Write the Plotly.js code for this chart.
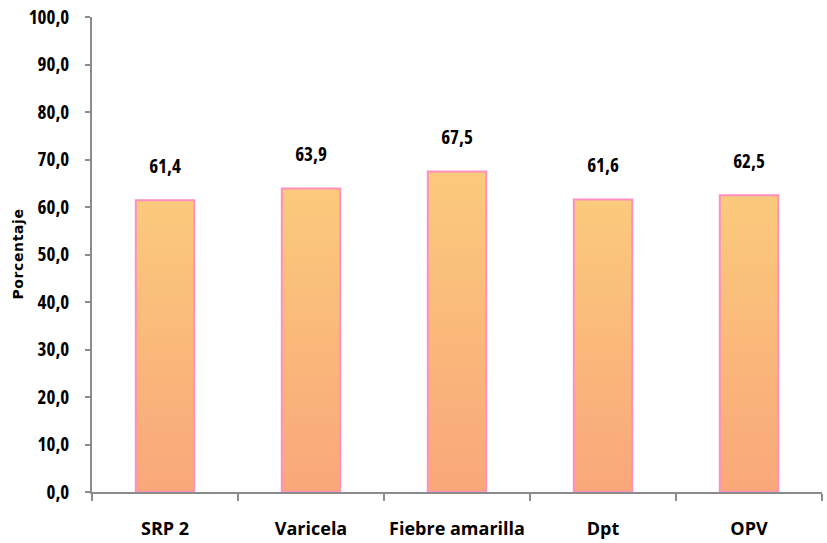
<!DOCTYPE html>
<html><head><meta charset="utf-8">
<script src="https://cdn.plot.ly/plotly-3.0.1.min.js"></script>
<style>body{margin:0;background:#fff}#c{width:827px;height:543px}</style>
</head><body><div id="c"></div>
<script>
const categories = ["SRP 2", "Varicela", "Fiebre amarilla", "Dpt", "OPV"];
const values = [61.4, 63.9, 67.5, 61.6, 62.5];
const yTicks = [0,10,20,30,40,50,60,70,80,90,100];

const font = "'Open Sans', sans-serif";

const trace = {
  type: "bar", x: categories, y: values, width: 0.4,
  marker: {color: "#FAB87B", line: {color: "#FF90C0", width: 2}},
  hoverinfo: "none"
};
const annotations = categories.map((c, i) => ({
  x: c, y: values[i], text: values[i].toFixed(1).replace(".", ","),
  showarrow: false, yanchor: "middle", yshift: 34,
  font: {family: font, size: 19, color: "#000", weight: "bold", stretch: "condensed"}
}));
annotations.push({
  xref: "paper", yref: "paper", x: (17 - 92) / 730, y: 0.5,
  xanchor: "center", yanchor: "middle", textangle: -90, showarrow: false,
  text: "Porcentaje",
  font: {family: "'DejaVu Sans', sans-serif", size: 14, color: "#000", weight: "bold"}
});
const layout = {
  width: 827, height: 543,
  margin: {l: 92, r: 5, t: 17, b: 51},
  paper_bgcolor: "#fff", plot_bgcolor: "#fff",
  separators: ",.",
  showlegend: false,
  xaxis: {
    showline: true, linecolor: "#8c8c8c", linewidth: 2,
    ticks: "outside", tickson: "boundaries", ticklen: 7, tickcolor: "#8c8c8c", tickwidth: 2,
    ticklabelstandoff: 19, tickangle: 0,
    tickfont: {family: font, size: 18, color: "#000", weight: "bold"},
    showgrid: false, zeroline: false
  },
  yaxis: {
    range: [0, 100], tickvals: yTicks, tickformat: ".1f",
    showline: true, linecolor: "#8c8c8c", linewidth: 2,
    ticks: "outside", ticklen: 5, tickcolor: "#8c8c8c", tickwidth: 2,
    ticklabelstandoff: 12,
    tickfont: {family: font, size: 19, color: "#000", weight: "bold", stretch: "condensed"},
    showgrid: false, zeroline: false
  },
  annotations: annotations
};
Plotly.newPlot("c", [trace], layout, {staticPlot: true, displayModeBar: false}).then(() => {
  const svg = document.querySelector("#c svg.main-svg");
  const ns = "http://www.w3.org/2000/svg";
  let defs = svg.querySelector("defs");
  if (!defs) { defs = document.createElementNS(ns, "defs"); svg.insertBefore(defs, svg.firstChild); }
  const g = document.createElementNS(ns, "linearGradient");
  g.setAttribute("id", "barGrad");
  g.setAttribute("x1", "0"); g.setAttribute("y1", "0"); g.setAttribute("x2", "0"); g.setAttribute("y2", "1");
  [["0", "#FBCA7C"], ["1", "#F9A77A"]].forEach(([o, c]) => {
    const s = document.createElementNS(ns, "stop");
    s.setAttribute("offset", o); s.setAttribute("stop-color", c); g.appendChild(s);
  });
  defs.appendChild(g);
  document.querySelectorAll("#c .bars .point path").forEach(p => { p.style.fill = "url(#barGrad)"; });
  document.querySelectorAll("#c .ytick text").forEach(t => { t.style.fontStretch = "condensed"; });
  document.querySelectorAll("#c .annotation-text").forEach(t => {
    if (t.textContent !== "Porcentaje") t.style.fontStretch = "condensed";
    else t.style.letterSpacing = "0.6px";
  });
});
</script></body></html>
